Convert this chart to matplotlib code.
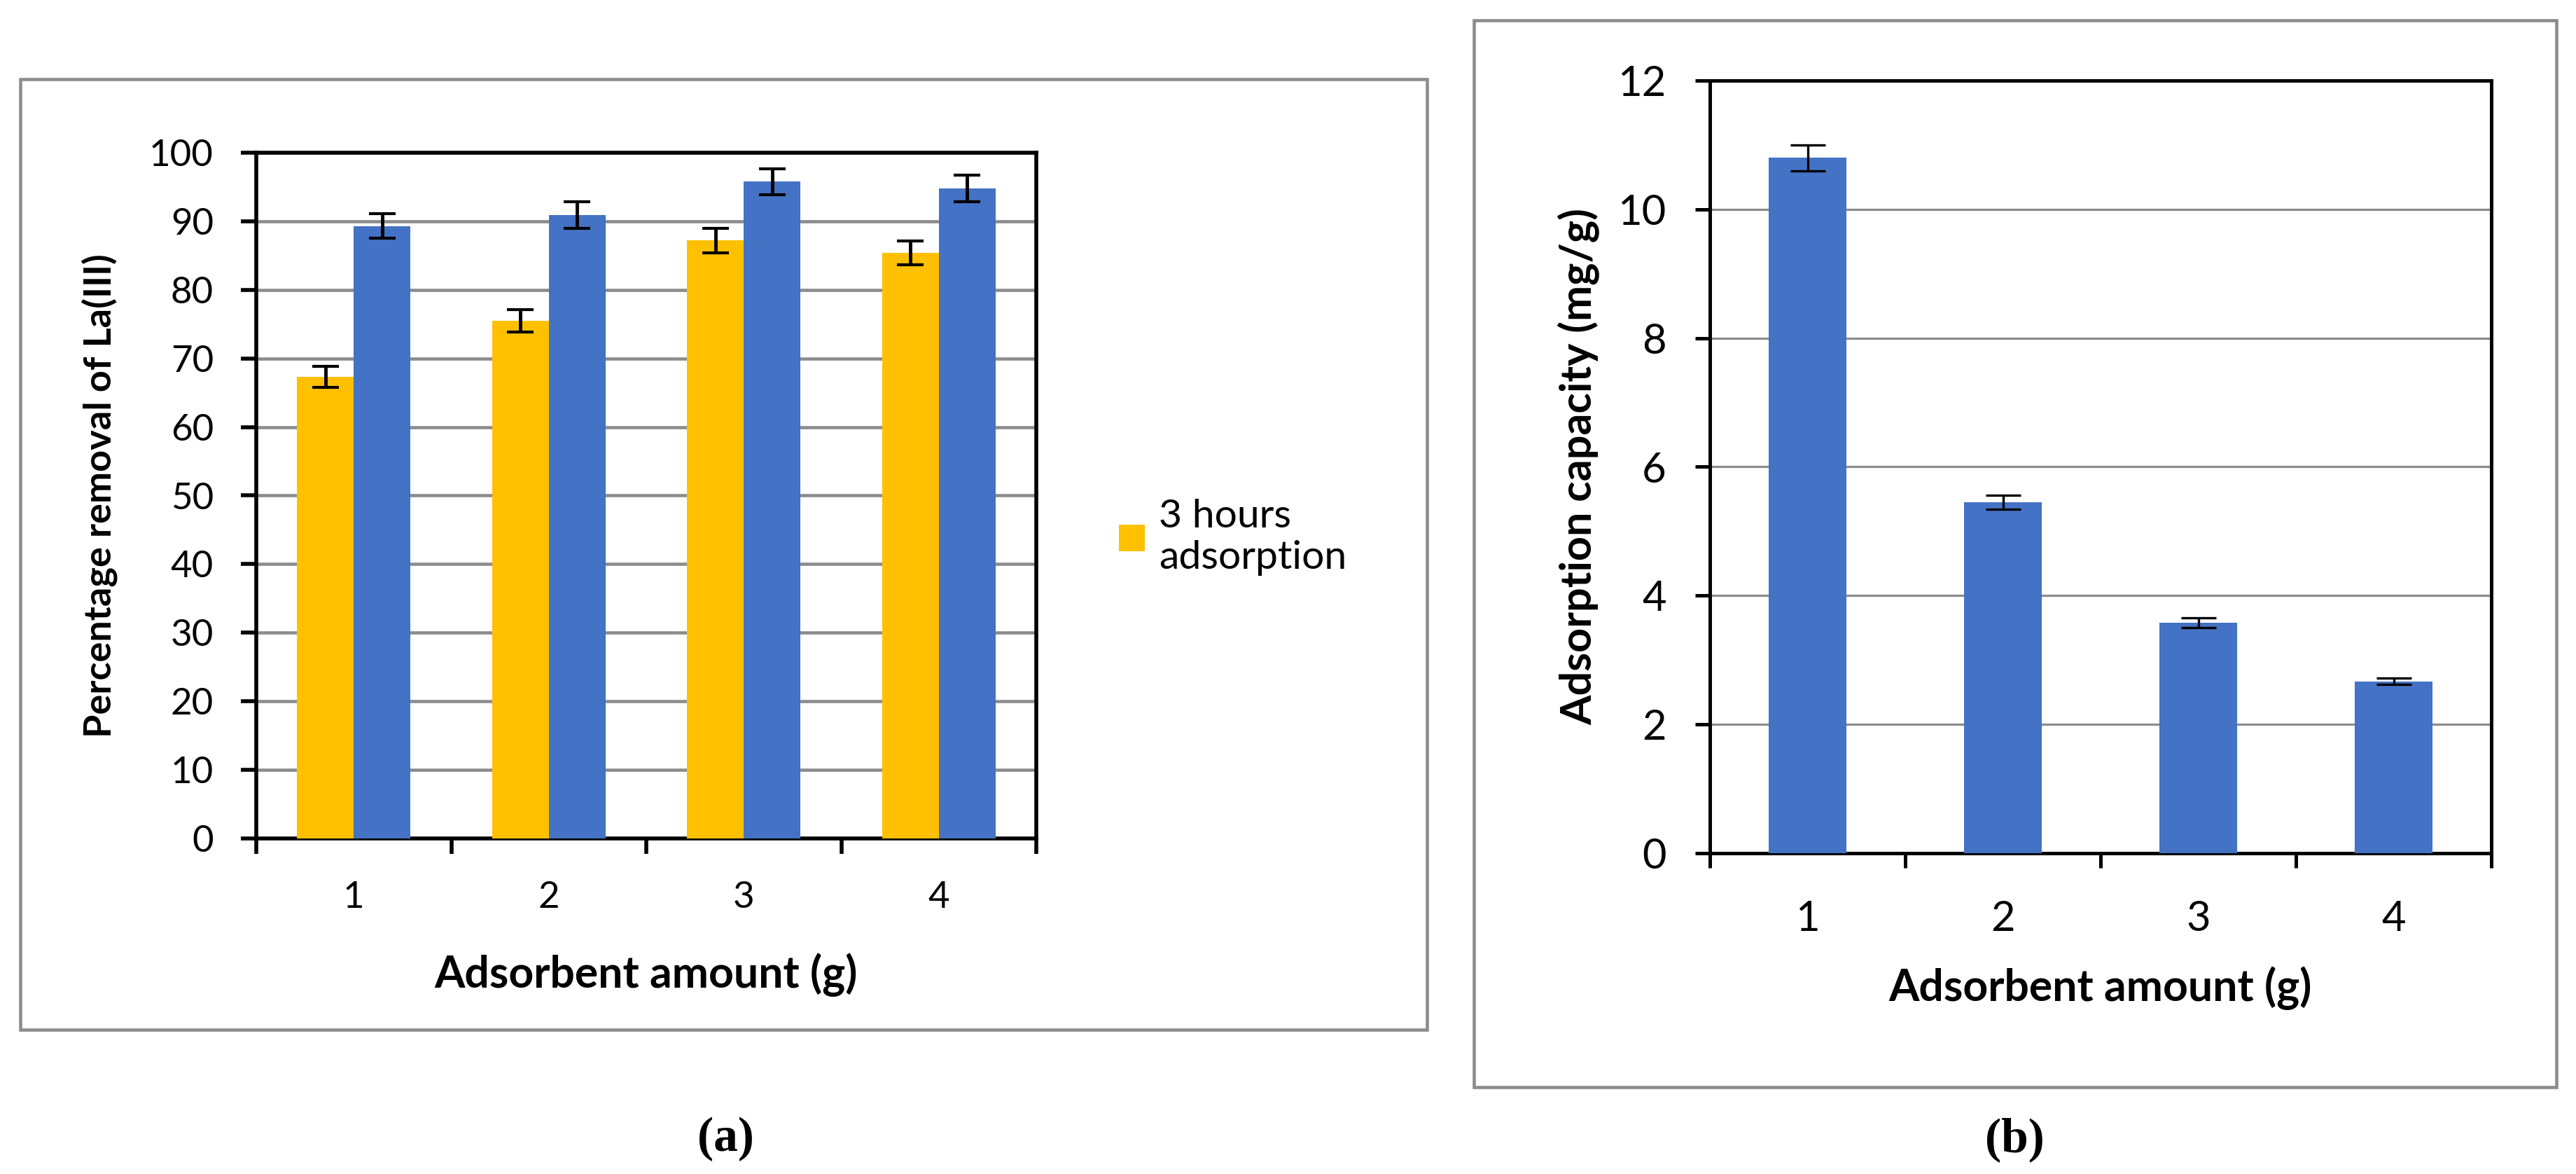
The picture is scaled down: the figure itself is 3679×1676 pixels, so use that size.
import numpy as np
import matplotlib.pyplot as plt
from matplotlib.patches import Rectangle

# data
amounts = ['1', '2', '3', '4']
removal_3h = [67.3, 75.5, 87.2, 85.4]
removal_3h_err = [1.5, 1.6, 1.8, 1.7]
removal_long = [89.3, 90.9, 95.8, 94.8]
removal_long_err = [1.8, 1.9, 1.9, 1.9]
capacity = [10.8, 5.45, 3.58, 2.67]
capacity_err = [0.2, 0.11, 0.08, 0.05]

W, H = 3679, 1676
DPI = 100
plt.rcParams['font.family'] = ['Lato', 'DejaVu Sans']

fig = plt.figure(figsize=(W / DPI, H / DPI), dpi=DPI)


def frac(x0, y0, x1, y1):
    # pixel box, top-left origin -> figure fraction [l, b, w, h]
    return [x0 / W, 1 - y1 / H, (x1 - x0) / W, (y1 - y0) / H]


# grey frames around each panel
for box in [(29, 113, 2038, 1470), (2105, 29, 3651, 1552)]:
    l, b, w, h = frac(*box)
    fig.add_artist(Rectangle((l, b), w, h, transform=fig.transFigure,
                             fill=False, ec='#8c8c8c', lw=3.3))

orange = '#FFC000'
blue = '#4472C4'
grid_c = '#8c8c8c'
x = np.arange(1, 5)

# ---- panel (a)
ax1 = fig.add_axes(frac(366, 218, 1480, 1197))
bw = 0.29
ekw = dict(ecolor='black', elinewidth=3.5, capthick=3)
b3 = ax1.bar(x - bw / 2, removal_3h, bw, yerr=removal_3h_err, capsize=14,
             color=orange, error_kw=ekw, zorder=3)
ax1.bar(x + bw / 2, removal_long, bw, yerr=removal_long_err, capsize=14,
        color=blue, error_kw=ekw, zorder=3)
ax1.set_xlim(0.5, 4.5)
ax1.set_ylim(0, 100)
ax1.set_yticks(range(0, 101, 10))
ax1.yaxis.grid(True, color=grid_c, lw=3.3)
ax1.set_axisbelow(True)
ax1.set_xticks(np.arange(0.5, 4.6, 1))
ax1.set_xticklabels([])
ax1.set_xticks(x, amounts, minor=True)
ax1.tick_params(axis='x', which='minor', length=0, pad=44, labelsize=38)
ax1.tick_params(axis='both', which='major', length=16, width=4,
                direction='out', labelsize=38)
ax1.tick_params(axis='y', pad=28)
for s in ax1.spines.values():
    s.set_linewidth(4)
ax1.set_ylabel('Percentage removal of La(III)', fontsize=39,
               fontweight='bold', va='center')
ax1.yaxis.set_label_coords(-0.201, 0.5)
ax1.set_xlabel('Adsorbent amount (g)', fontsize=45, fontweight='bold',
               va='center')
ax1.xaxis.set_label_coords(0.5, -0.199)

leg = ax1.legend([b3], ['3 hours\nadsorption'], loc='upper left',
                 bbox_to_anchor=(1598 / W, 1 - 712 / H),
                 bbox_transform=fig.transFigure, frameon=False, fontsize=41,
                 handlelength=0.65, handleheight=0.65, handletextpad=0.35,
                 borderpad=0, borderaxespad=0)

# ---- panel (b)
ax2 = fig.add_axes(frac(2442, 115, 3558, 1218))
ax2.bar(x, capacity, 0.40, yerr=capacity_err, capsize=18, color=blue,
        error_kw=dict(ecolor='black', elinewidth=2.4, capthick=2.4), zorder=3)
ax2.set_xlim(0.5, 4.5)
ax2.set_ylim(0, 12)
ax2.set_yticks(range(0, 13, 2))
ax2.yaxis.grid(True, color=grid_c, lw=2.3)
ax2.set_axisbelow(True)
ax2.set_xticks(np.arange(0.5, 4.6, 1))
ax2.set_xticklabels([])
ax2.set_xticks(x, amounts, minor=True)
ax2.tick_params(axis='x', which='minor', length=0, pad=48, labelsize=43)
ax2.tick_params(axis='both', which='major', length=15, width=3.6,
                direction='out', labelsize=43)
ax2.tick_params(axis='y', pad=30)
for s in ax2.spines.values():
    s.set_linewidth(3.6)
ax2.set_ylabel('Adsorption capacity (mg/g)', fontsize=44,
               fontweight='bold', va='center')
ax2.yaxis.set_label_coords(-0.167, 0.5)
ax2.set_xlabel('Adsorbent amount (g)', fontsize=45, fontweight='bold',
               va='center')
ax2.xaxis.set_label_coords(0.5, -0.175)

# panel tags
fig.text(1036 / W, 1 - 1626 / H, '(a)', ha='center', va='center',
         fontsize=50, fontweight='bold', family='Liberation Serif')
fig.text(2877 / W, 1 - 1627 / H, '(b)', ha='center', va='center',
         fontsize=50, fontweight='bold', family='Liberation Serif')

fig.savefig('out.png', dpi=DPI)
